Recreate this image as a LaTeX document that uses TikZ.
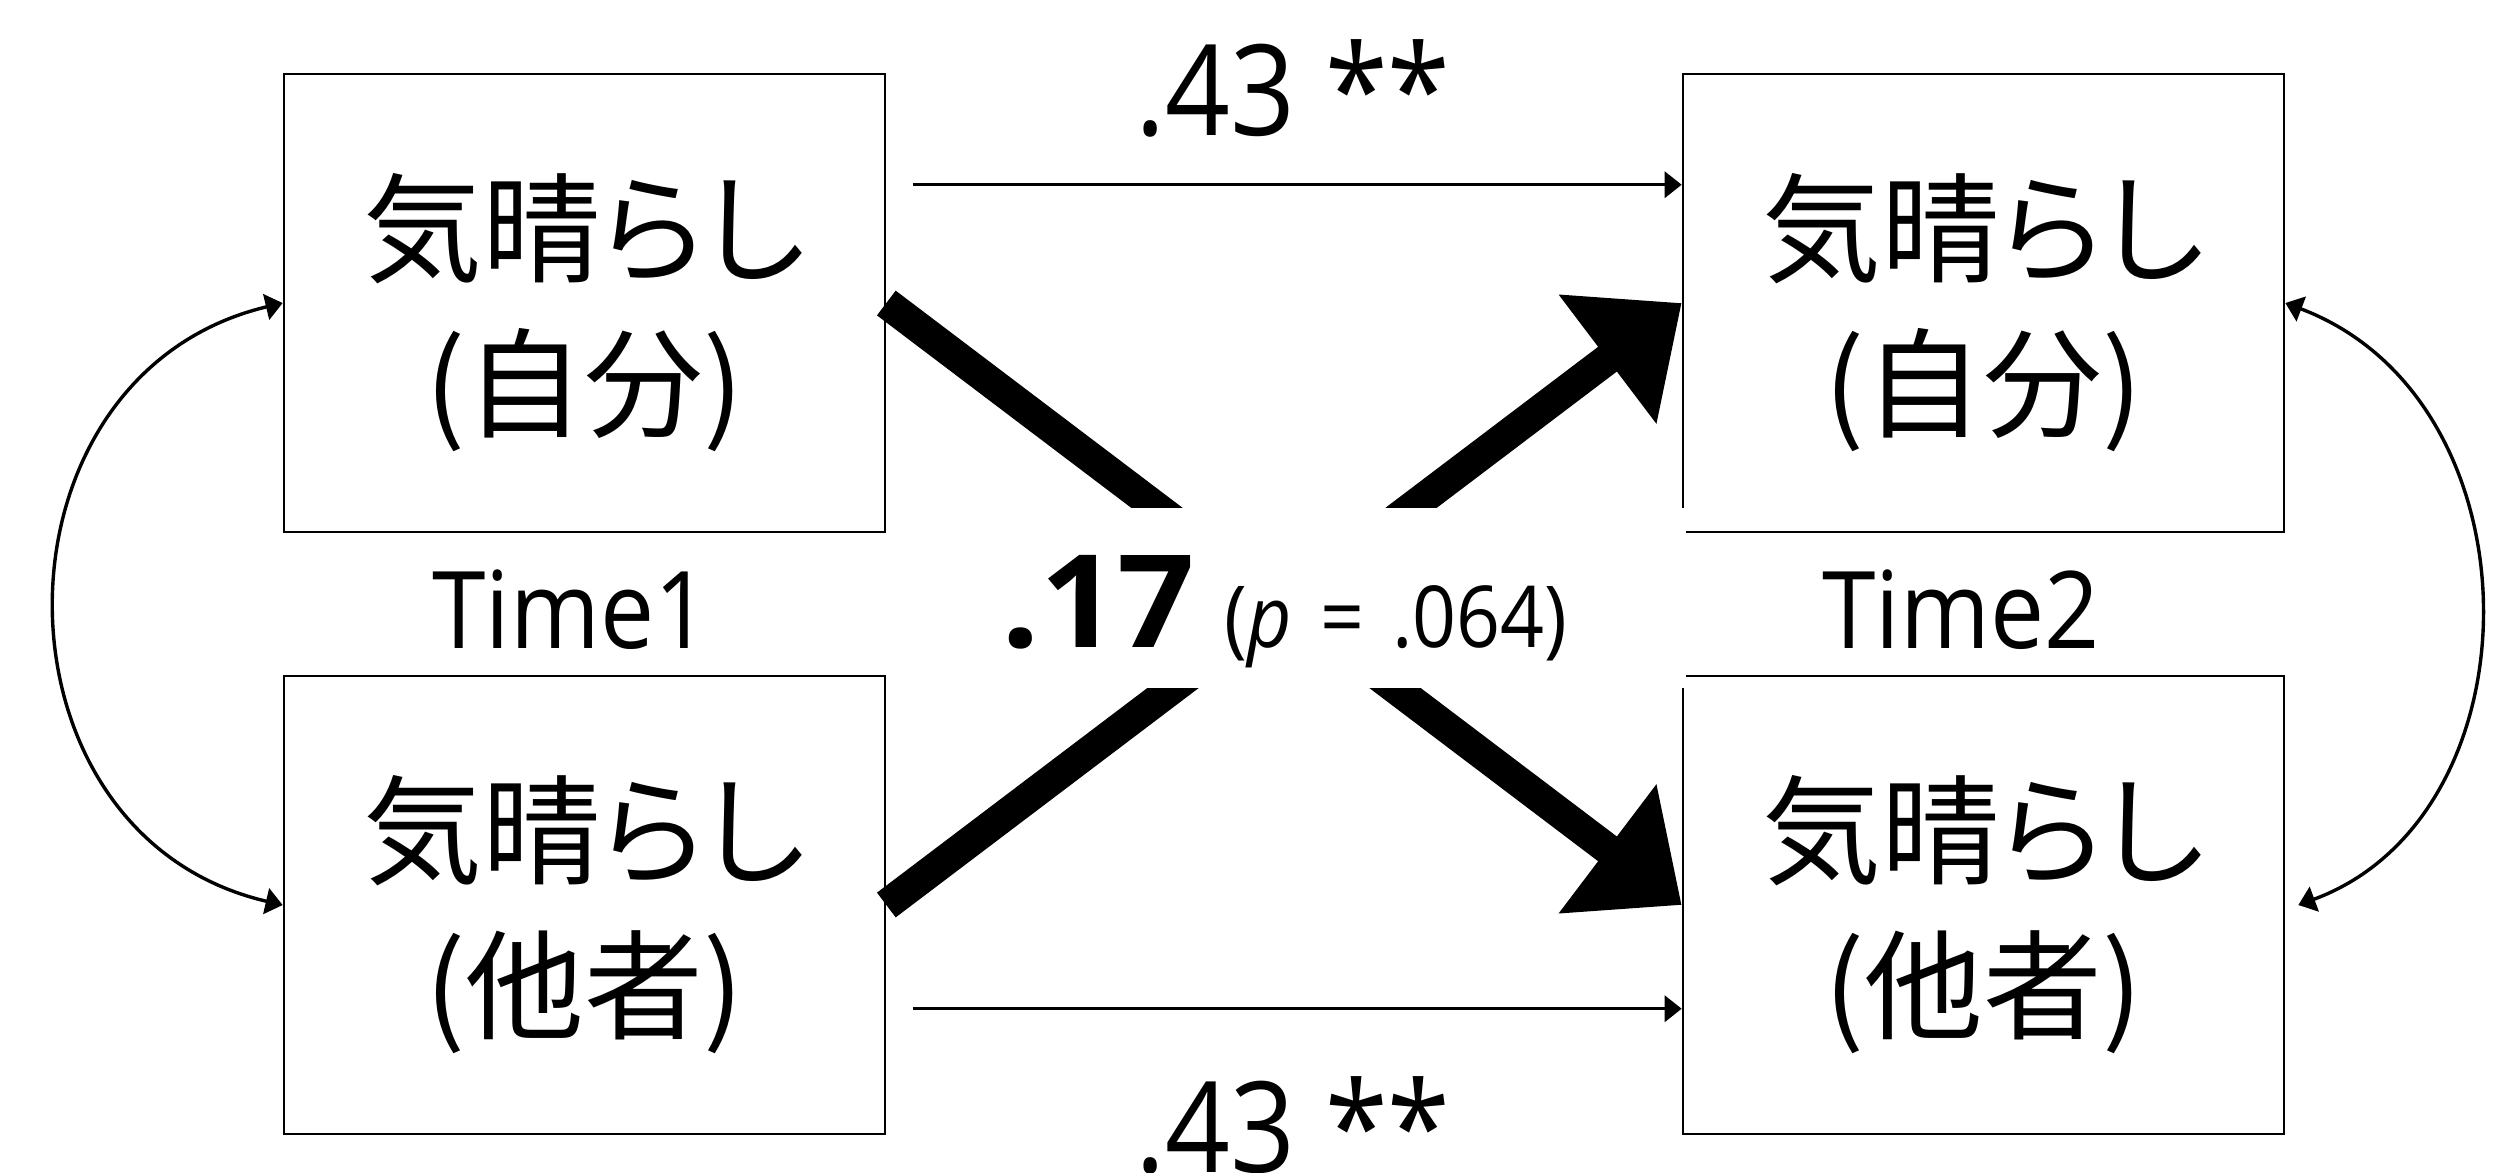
\documentclass[tikz,border=0pt]{standalone}
\usepackage{fontspec}
\setmainfont{Open Sans}[FakeStretch=0.9]
\newfontfamily\latb{Open Sans}[FakeStretch=1.05]
\newfontfamily\jp{Noto Sans CJK JP}[RawFeature=+palt]
\usetikzlibrary{arrows.meta,calc}
\begin{document}
\begin{tikzpicture}[x=0.01cm,y=-0.01cm,
  box/.style={draw, line width=0.023cm, minimum width=6.01cm, minimum height=4.58cm, inner sep=0pt},
  boxtext/.style={anchor=base, inner sep=0pt, font=\jp\fontsize{33.8}{40}\selectfont},
  thinarrow/.style={line width=0.034cm, -{Triangle[length=0.17cm,width=0.26cm]}},
  botharrow/.style={line width=0.034cm, {Triangle[length=0.17cm,width=0.26cm]}-{Triangle[length=0.17cm,width=0.26cm]}},
  thickarrow/.style={line width=0.31cm, -{Triangle[length=0.93cm,width=1.56cm]}},
  coef/.style={anchor=base, inner sep=0pt, font=\fontsize{35.9}{40}\selectfont},
  timelab/.style={anchor=base, inner sep=0pt, font=\fontsize{30.5}{36}\selectfont}]
\useasboundingbox (0,0) rectangle (2519,1172);
% boxes
\node[box] (A1) at (584.5,303) {};
\node[box] (B1) at (584.5,905) {};
\node[box] (A2) at (1983.5,303) {};
\node[box] (B2) at (1983.5,905) {};
% box texts
\node[boxtext] (A1a) at ($(A1.north)+(0,201)$) {気晴らし};
\node[boxtext] (A1b) at ($(A1.north)+(0,356)$) {(自分)};
\node[boxtext] (B1a) at ($(B1.north)+(0,201)$) {気晴らし};
\node[boxtext] (B1b) at ($(B1.north)+(0,356)$) {(他者)};
\node[boxtext] (A2a) at ($(A2.north)+(0,201)$) {気晴らし};
\node[boxtext] (A2b) at ($(A2.north)+(0,356)$) {(自分)};
\node[boxtext] (B2a) at ($(B2.north)+(0,201)$) {気晴らし};
\node[boxtext] (B2b) at ($(B2.north)+(0,356)$) {(他者)};
% horizontal paths
\draw[thinarrow] ($(A1.north east)+(27,112)$) -- ($(A2.north west)+(0,112)$);
\draw[thinarrow] ($(B1.north east)+(27,334)$) -- ($(B2.north west)+(0,334)$);
% cross-lagged paths
\draw[thickarrow] (A1.east) -- (B2.west);
\draw[thickarrow] (B1.east) -- (A2.west);
% covariances
\draw[botharrow] (A1.west) .. controls ($(A1.west)+(-302,72)$) and ($(B1.west)+(-302,-70)$) .. (B1.west);
\draw[botharrow] (A2.east) .. controls ($(A2.east)+(257,97)$) and ($(B2.east)+(257,-90)$) .. ($(B2.east)+(13,0)$);
% centre label
\node[fill=white, inner sep=0pt, minimum width=7.9cm, minimum height=1.8cm] (lab) at (1291,598) {};
\node[anchor=base west, inner sep=0pt, font=\latb\bfseries\fontsize{36.7}{40}\selectfont] (b17) at (1001,647) {.17};
\node[anchor=base west, inner sep=0pt, font=\fontsize{24.3}{28}\selectfont] (pv) at (1224,647) {(\textit{p}\hspace{0.33em}=\hspace{0.33em}.064)};
% coefficient labels
\node[coef] (c1) at (1293,135) {.43 **};
\node[coef] (c2) at (1293,1172) {.43 **};
% time labels
\node[timelab] (t1) at (571,648) {Time1};
\node[timelab] (t2) at (1961,648) {Time2};
\end{tikzpicture}
\end{document}
